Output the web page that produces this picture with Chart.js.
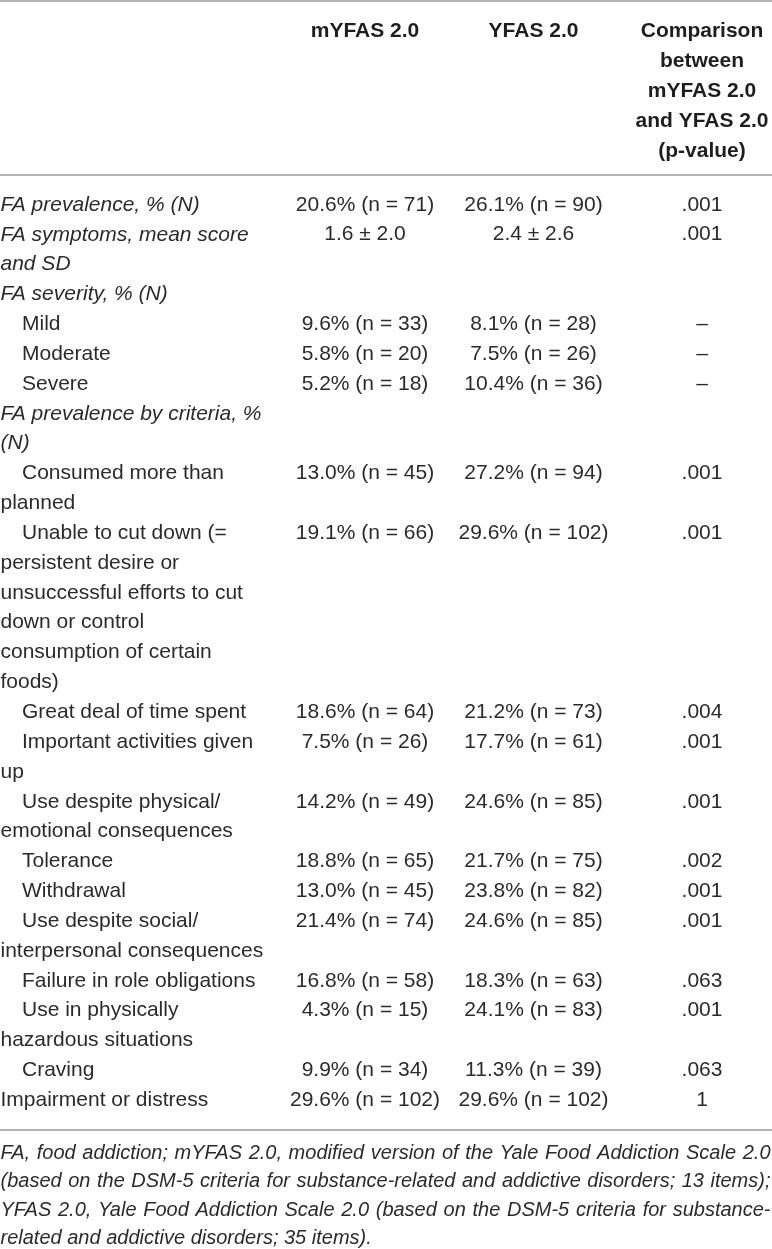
<!DOCTYPE html>
<html>
<head>
<meta charset="utf-8">
<script src="https://cdn.jsdelivr.net/npm/chart.js@4.4.1/dist/chart.umd.min.js"></script>
<style>
  html, body { margin: 0; padding: 0; background: #ffffff; }
  #wrap { width: 772px; height: 1249px; position: relative; }
</style>
</head>
<body>
<div id="wrap"><canvas id="c"></canvas></div>
<script>
// ---------- DATA ----------
const columnHeaders = [
  ['mYFAS 2.0'],
  ['YFAS 2.0'],
  ['Comparison', 'between', 'mYFAS 2.0', 'and YFAS 2.0', '(p-value)']
];

const rowLabels = [
  ['FA prevalence, % (N)'],
  ['FA symptoms, mean score', 'and SD'],
  ['FA severity, % (N)'],
  ['Mild'],
  ['Moderate'],
  ['Severe'],
  ['FA prevalence by criteria, %', '(N)'],
  ['Consumed more than', 'planned'],
  ['Unable to cut down (=', 'persistent desire or', 'unsuccessful efforts to cut', 'down or control', 'consumption of certain', 'foods)'],
  ['Great deal of time spent'],
  ['Important activities given', 'up'],
  ['Use despite physical/', 'emotional consequences'],
  ['Tolerance'],
  ['Withdrawal'],
  ['Use despite social/', 'interpersonal consequences'],
  ['Failure in role obligations'],
  ['Use in physically', 'hazardous situations'],
  ['Craving'],
  ['Impairment or distress']
];

// 'group' = italic heading, 'item' = indented sub-row, 'plain' = normal row
const rowKinds = ['group', 'group', 'group', 'item', 'item', 'item', 'group', 'item', 'item', 'item',
                  'item', 'item', 'item', 'item', 'item', 'item', 'item', 'item', 'plain'];

const mYFASValues = ['20.6% (n = 71)', '1.6 ± 2.0', '', '9.6% (n = 33)', '5.8% (n = 20)', '5.2% (n = 18)', '',
  '13.0% (n = 45)', '19.1% (n = 66)', '18.6% (n = 64)', '7.5% (n = 26)', '14.2% (n = 49)', '18.8% (n = 65)',
  '13.0% (n = 45)', '21.4% (n = 74)', '16.8% (n = 58)', '4.3% (n = 15)', '9.9% (n = 34)', '29.6% (n = 102)'];

const YFASValues = ['26.1% (n = 90)', '2.4 ± 2.6', '', '8.1% (n = 28)', '7.5% (n = 26)', '10.4% (n = 36)', '',
  '27.2% (n = 94)', '29.6% (n = 102)', '21.2% (n = 73)', '17.7% (n = 61)', '24.6% (n = 85)', '21.7% (n = 75)',
  '23.8% (n = 82)', '24.6% (n = 85)', '18.3% (n = 63)', '24.1% (n = 83)', '11.3% (n = 39)', '29.6% (n = 102)'];

const pValues = ['.001', '.001', '', '–', '–', '–', '',
  '.001', '.001', '.004', '.001', '.001', '.002',
  '.001', '.001', '.063', '.001', '.063', '1'];

const footnoteLines = [
  'FA, food addiction; mYFAS 2.0, modified version of the Yale Food Addiction Scale 2.0',
  '(based on the DSM-5 criteria for substance-related and addictive disorders; 13 items);',
  'YFAS 2.0, Yale Food Addiction Scale 2.0 (based on the DSM-5 criteria for substance-',
  'related and addictive disorders; 35 items).'
];

// ---------- DERIVED STRUCTURE ----------
const rowLine = [];
let lineAcc = 0;
rowLabels.forEach(l => { rowLine.push(lineAcc); lineAcc += l.length; });
const totalLines = lineAcc;

function cellPoints(values, col) {
  return values
    .map((v, i) => ({ x: col, y: rowLine[i], text: v }))
    .filter(p => p.text !== '');
}

// ---------- STYLE ----------
const FAMILY = '"Liberation Sans", Arial, Helvetica, sans-serif';
const TEXT = '#2b2b2b';
const HEAD = '#1e1e1e';
const RULE = '#9a9a9a';
const BODY_FONT = '21px ' + FAMILY;
const ITALIC_FONT = 'italic 21px ' + FAMILY;
const NOTE_FONT = 'italic 20px ' + FAMILY;

const tablePlugin = {
  id: 'tableText',
  afterDraw(chart) {
    const { ctx, chartArea } = chart;
    const yScale = chart.scales.y;
    const W = chart.width;
    ctx.save();

    // horizontal rules
    ctx.strokeStyle = RULE;
    ctx.lineWidth = 1.5;
    [1, chartArea.top, chartArea.bottom].forEach(yy => {
      ctx.beginPath();
      ctx.moveTo(0, yy);
      ctx.lineTo(W, yy);
      ctx.stroke();
    });

    // data cells, at the points placed by the scales
    ctx.fillStyle = TEXT;
    ctx.textBaseline = 'middle';
    ctx.textAlign = 'center';
    ctx.font = BODY_FONT;
    chart.data.datasets.forEach((ds, di) => {
      chart.getDatasetMeta(di).data.forEach((el, i) => {
        ctx.fillText(ds.data[i].text, el.x, el.y);
      });
    });

    // row labels
    ctx.textAlign = 'left';
    rowLabels.forEach((lines, r) => {
      const kind = rowKinds[r];
      ctx.font = kind === 'group' ? ITALIC_FONT : BODY_FONT;
      lines.forEach((t, k) => {
        const x = (kind === 'item' && k === 0) ? 22 : 0.5;
        ctx.fillText(t, x, yScale.getPixelForValue(rowLine[r] + k));
      });
    });

    // footnote (justified)
    ctx.font = NOTE_FONT;
    const noteTop = chartArea.bottom + 23.5;
    const noteStep = 28.4;
    const noteWidth = W - 1.5;
    footnoteLines.forEach((line, i) => {
      const yy = noteTop + i * noteStep;
      if (i === footnoteLines.length - 1) {
        ctx.fillText(line, 0.5, yy);
        return;
      }
      const words = line.split(' ');
      const widths = words.map(w => ctx.measureText(w).width);
      const sum = widths.reduce((a, b) => a + b, 0);
      const gap = (noteWidth - 0.5 - sum) / (words.length - 1);
      let x = 0.5;
      words.forEach((w, k) => {
        ctx.fillText(w, x, yy);
        x += widths[k] + gap;
      });
    });

    ctx.restore();
  }
};

const chart = new Chart(document.getElementById('c'), {
  type: 'scatter',
  data: {
    datasets: [
      { label: 'mYFAS 2.0', data: cellPoints(mYFASValues, 0), pointRadius: 0, pointHoverRadius: 0 },
      { label: 'YFAS 2.0', data: cellPoints(YFASValues, 1), pointRadius: 0, pointHoverRadius: 0 },
      { label: 'p-value', data: cellPoints(pValues, 2), pointRadius: 0, pointHoverRadius: 0 }
    ]
  },
  options: {
    responsive: true,
    maintainAspectRatio: false,
    animation: false,
    events: [],
    layout: { padding: { top: 15, left: 365, right: 70, bottom: 119 } },
    plugins: {
      legend: { display: false },
      tooltip: { enabled: false },
      title: { display: false }
    },
    scales: {
      x: {
        type: 'linear',
        position: 'top',
        min: 0,
        max: columnHeaders.length - 1,
        grid: { display: false },
        border: { display: false },
        afterFit: (scale) => {
          scale.height = 160;
          scale.paddingLeft = 0;
          scale.paddingRight = 0;
        },
        ticks: {
          stepSize: 1,
          autoSkip: false,
          maxRotation: 0,
          minRotation: 0,
          crossAlign: 'far',
          padding: 1,
          color: HEAD,
          font: { family: FAMILY, size: 21, weight: 'bold', lineHeight: '30px' },
          callback: (v) => columnHeaders[v]
        }
      },
      y: {
        type: 'linear',
        reverse: true,
        min: -1,
        max: totalLines,
        display: false
      }
    }
  },
  plugins: [tablePlugin]
});
</script>
</body>
</html>
